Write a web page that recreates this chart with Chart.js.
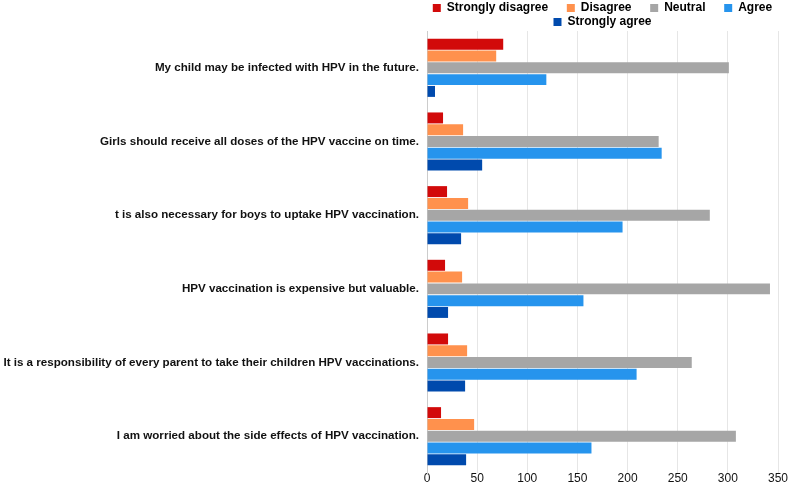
<!DOCTYPE html>
<html>
<head>
<meta charset="utf-8">
<script src="https://cdn.jsdelivr.net/npm/chart.js"></script>
<style>
  html, body { margin: 0; padding: 0; background: #ffffff; }
  #wrap { width: 790px; height: 488px; }
</style>
</head>
<body>
<div id="wrap"><canvas id="hpvChart"></canvas></div>
<script>
// survey statements (top to bottom)
var statements = [
    "My child may be infected with HPV in the future.",
    "Girls should receive all doses of the HPV vaccine on time.",
    "t is also necessary for boys to uptake HPV vaccination.",
    "HPV vaccination is expensive but valuable.",
    "It is a responsibility of every parent to take their children HPV vaccinations.",
    "I am worried about the side effects of HPV vaccination."
];

var stronglyDisagree = [76, 16, 20, 18, 21, 14];
var disagree         = [69, 36, 41, 35, 40, 47];
var neutral          = [301, 231, 282, 342, 264, 308];
var agree            = [119, 234, 195, 156, 209, 164];
var stronglyAgree    = [8, 55, 34, 21, 38, 39];

var seriesNames  = ["Strongly disagree", "Disagree", "Neutral", "Agree", "Strongly agree"];
var seriesColors = ["#d20a0a", "#ff914d", "#a6a6a6", "#2694ed", "#004aad"];
var xTicks       = [0, 50, 100, 150, 200, 250, 300, 350];

var allSeries = [stronglyDisagree, disagree, neutral, agree, stronglyAgree];
var data_sets = [];
for (var i = 0; i < allSeries.length; i++) {
    data_sets.push({
        label           : seriesNames[i],
        data            : allSeries[i],
        backgroundColor : seriesColors[i],
        borderWidth     : 0,
        categoryPercentage : 0.8,
        barPercentage   : 0.93
    });
}

Chart.defaults.font.family = "'Liberation Sans', Arial, sans-serif";
Chart.defaults.color = "#000000";

// legend gap between items is wider than the row spacing, so pad the text
// of the first items in a row instead of the legend padding
var legendGap = "\u00a0\u00a0\u00a0\u00a0\u00a0";

// pull the plot a bit closer to the legend
var legendTight = {
    id : "legendTight",
    beforeInit : function(chart) {
        var origFit = chart.legend.fit;
        chart.legend.fit = function() {
            origFit.bind(chart.legend)();
            this.height -= 7;
        };
    }
};

new Chart(document.getElementById("hpvChart"), {
    type : "bar",
    data : { labels : statements, datasets : data_sets },
    plugins : [legendTight],
    options : {
        indexAxis  : "y",
        responsive : true,
        maintainAspectRatio : false,
        animation  : false,
        layout : { padding : { top : 0, right : 12, bottom : 0, left : 0 } },
        plugins : {
            legend : {
                position : "top",
                fullSize : false,
                labels : {
                    boxWidth  : 8,
                    boxHeight : 8,
                    padding   : 2,
                    font : { size : 12, weight : "bold" },
                    generateLabels : function(chart) {
                        var items = Chart.defaults.plugins.legend.labels.generateLabels(chart);
                        items.forEach(function(item, idx) {
                            if (idx < 3) { item.text = item.text + legendGap; }
                        });
                        return items;
                    }
                }
            },
            tooltip : { enabled : false }
        },
        scales : {
            x : {
                min : 0,
                max : 350,
                afterBuildTicks : function(scale) {
                    scale.ticks = xTicks.map(function(v) { return { value : v }; });
                },
                grid   : { color : "#e6e6e6", lineWidth : 1, drawTicks : false },
                border : { display : false },
                ticks  : { padding : 0, font : { size : 12, lineHeight : 1 }, color : "#111111" }
            },
            y : {
                afterFit : function(scale) { scale.width = 427; },
                grid   : { display : false, drawTicks : false },
                border : { display : true, color : "#cccccc", width : 1 },
                ticks  : { padding : 8, font : { size : 11.6, weight : "bold" }, color : "#111111" }
            }
        }
    }
});
</script>
</body>
</html>
